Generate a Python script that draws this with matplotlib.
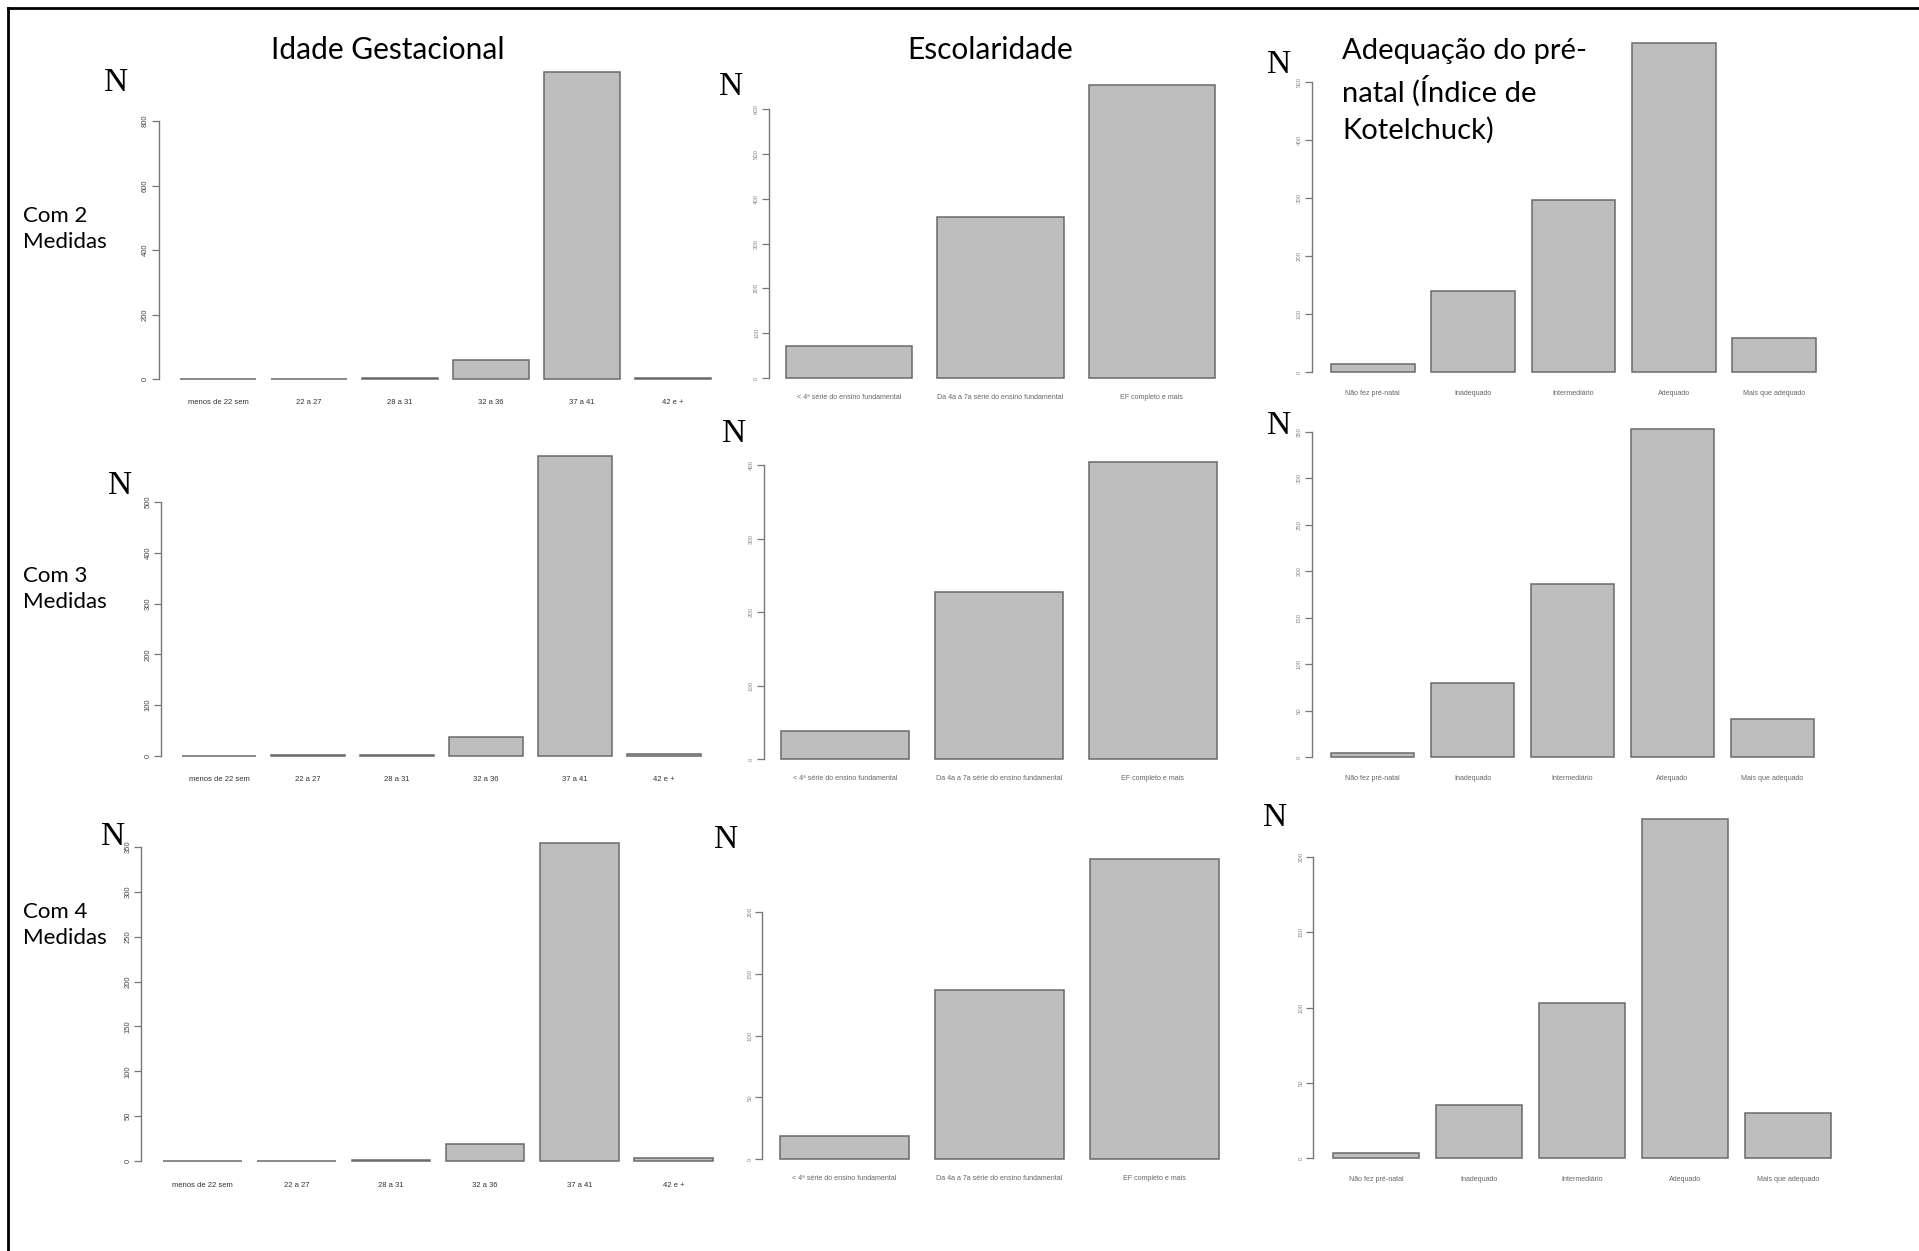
import matplotlib
matplotlib.use("Agg")
import matplotlib.pyplot as plt
from matplotlib.lines import Line2D

# categories
idade_cats = ["menos de 22 sem", "22 a 27", "28 a 31", "32 a 36", "37 a 41", "42 e +"]
escol_cats = ["< 4ª série do ensino fundamental", "Da 4a a 7a série do ensino fundamental",
              "EF completo e mais"]
adeq_cats = ["Não fez pré-natal", "Inadequado", "Intermediário", "Adequado", "Mais que adequado"]

# counts, one list per row (2, 3 and 4 measurements)
idade_2 = [0, 1, 4, 58, 952, 4]
idade_3 = [0, 1, 2, 38, 591, 4]
idade_4 = [0, 0, 1, 19, 354, 3]
escol_2 = [71, 358, 654]
escol_3 = [38, 227, 404]
escol_4 = [19, 137, 243]
adeq_2 = [14, 139, 297, 567, 59]
adeq_3 = [4, 80, 186, 353, 41]
adeq_4 = [3, 35, 103, 225, 30]

col_titles = ["Idade Gestacional", "Escolaridade", "Adequação do pré-\nnatal (Índice de\nKotelchuck)"]
row_titles = ["Com 2\nMedidas", "Com 3\nMedidas", "Com 4\nMedidas"]
ytick_steps = [[200, 100, 100], [100, 100, 50], [50, 50, 50]]

W, H = 1919, 1251
fig = plt.figure(figsize=(W / 100, H / 100), dpi=100)

# pixel placement of each panel: first bar left, last bar right, y of 0, y of top tick, top tick value
layout = [
    [(180, 711, 379, 121, 800), (786, 1215, 378, 109, 600), (1331, 1816, 372, 82, 500)],
    [(182, 701, 756, 502, 500), (781, 1217, 759, 465, 400), (1331, 1814, 757, 432, 350)],
    [(163, 713, 1161, 847, 350), (780, 1219, 1159, 912, 200), (1333, 1831, 1158, 857, 200)],
]
n_pos = [
    [(116, 83), (731, 87), (1279, 65)],
    [(120, 486), (734, 434), (1279, 426)],
    [(113, 837), (726, 840), (1275, 818)],
]

data = [
    [(idade_cats, idade_2), (escol_cats, escol_2), (adeq_cats, adeq_2)],
    [(idade_cats, idade_3), (escol_cats, escol_3), (adeq_cats, adeq_3)],
    [(idade_cats, idade_4), (escol_cats, escol_4), (adeq_cats, adeq_4)],
]

xlab_size = [5.5, 5.1, 5.1]
xlab_pad = [5.8, 3.0, 3.5]

for r in range(3):
    for c in range(3):
        cats, vals = data[r][c]
        bl, br, y0, yt, tv = layout[r][c]
        n = len(vals)
        span = 1.2 * n - 0.2
        ppx = (br - bl) / span
        ppy = (y0 - yt) / tv
        m = max(vals)
        left = bl - 0.04 * span * ppx
        width = 1.08 * span * ppx
        bot = y0 + 0.04 * m * ppy
        top = y0 - 1.04 * m * ppy
        ax = fig.add_axes([left / W, 1 - bot / H, width / W, (bot - top) / H])
        centers = [0.7 + 1.2 * i for i in range(n)]
        ax.bar(centers, vals, width=1.0, color="#bebebe", edgecolor="#6a6a6a", linewidth=1.1)
        ax.set_xlim(0.2 - 0.04 * span, 1.2 * n + 0.04 * span)
        ax.set_ylim(-0.04 * m, 1.04 * m)
        for s in ["top", "right", "bottom"]:
            ax.spines[s].set_visible(False)
        ax.spines["left"].set_bounds(0, tv)
        ax.spines["left"].set_color("#777777")
        ax.spines["left"].set_linewidth(1.0)
        step = ytick_steps[r][c]
        ticks = list(range(0, tv + 1, step))
        ax.set_yticks(ticks)
        dark = c == 0
        ax.set_yticklabels([str(t) for t in ticks], rotation=90, va="center",
                           fontsize=5.5 if dark else 4.3,
                           color="#444444" if dark else "#888888", family="Liberation Sans")
        ax.tick_params(axis="y", length=5, width=0.9, color="#777777", pad=2)
        ax.set_xticks(centers)
        ax.set_xticklabels(cats, fontsize=xlab_size[c],
                           color="#333333" if dark else "#666666", family="Liberation Sans")
        ax.tick_params(axis="x", length=0, pad=xlab_pad[c])
        ax.patch.set_alpha(0)
        nx, ny = n_pos[r][c]
        fig.text(nx / W, 1 - ny / H, "N", fontsize=24, family="Liberation Serif",
                 ha="center", va="center")

# column headers
fig.text(388 / W, 1 - 50 / H, col_titles[0], fontsize=21.5, family="Lato", ha="center", va="center")
fig.text(990 / W, 1 - 50 / H, col_titles[1], fontsize=21.5, family="Lato", ha="center", va="center")
fig.text(1342 / W, 1 - 38 / H, col_titles[2], fontsize=21, family="Lato", ha="left", va="top",
         linespacing=1.45)

# row headers
for y, t in zip([229, 589, 925], row_titles):
    fig.text(23 / W, 1 - y / H, t, fontsize=16, family="Lato", ha="left", va="center",
             linespacing=1.4)

# frame along top and left edge
fig.add_artist(Line2D([8 / W, 1], [1 - 8 / H, 1 - 8 / H], color="black", lw=2,
                      transform=fig.transFigure))
fig.add_artist(Line2D([8 / W, 8 / W], [0, 1 - 8 / H], color="black", lw=2,
                      transform=fig.transFigure))

fig.savefig("out.png", dpi=100)
